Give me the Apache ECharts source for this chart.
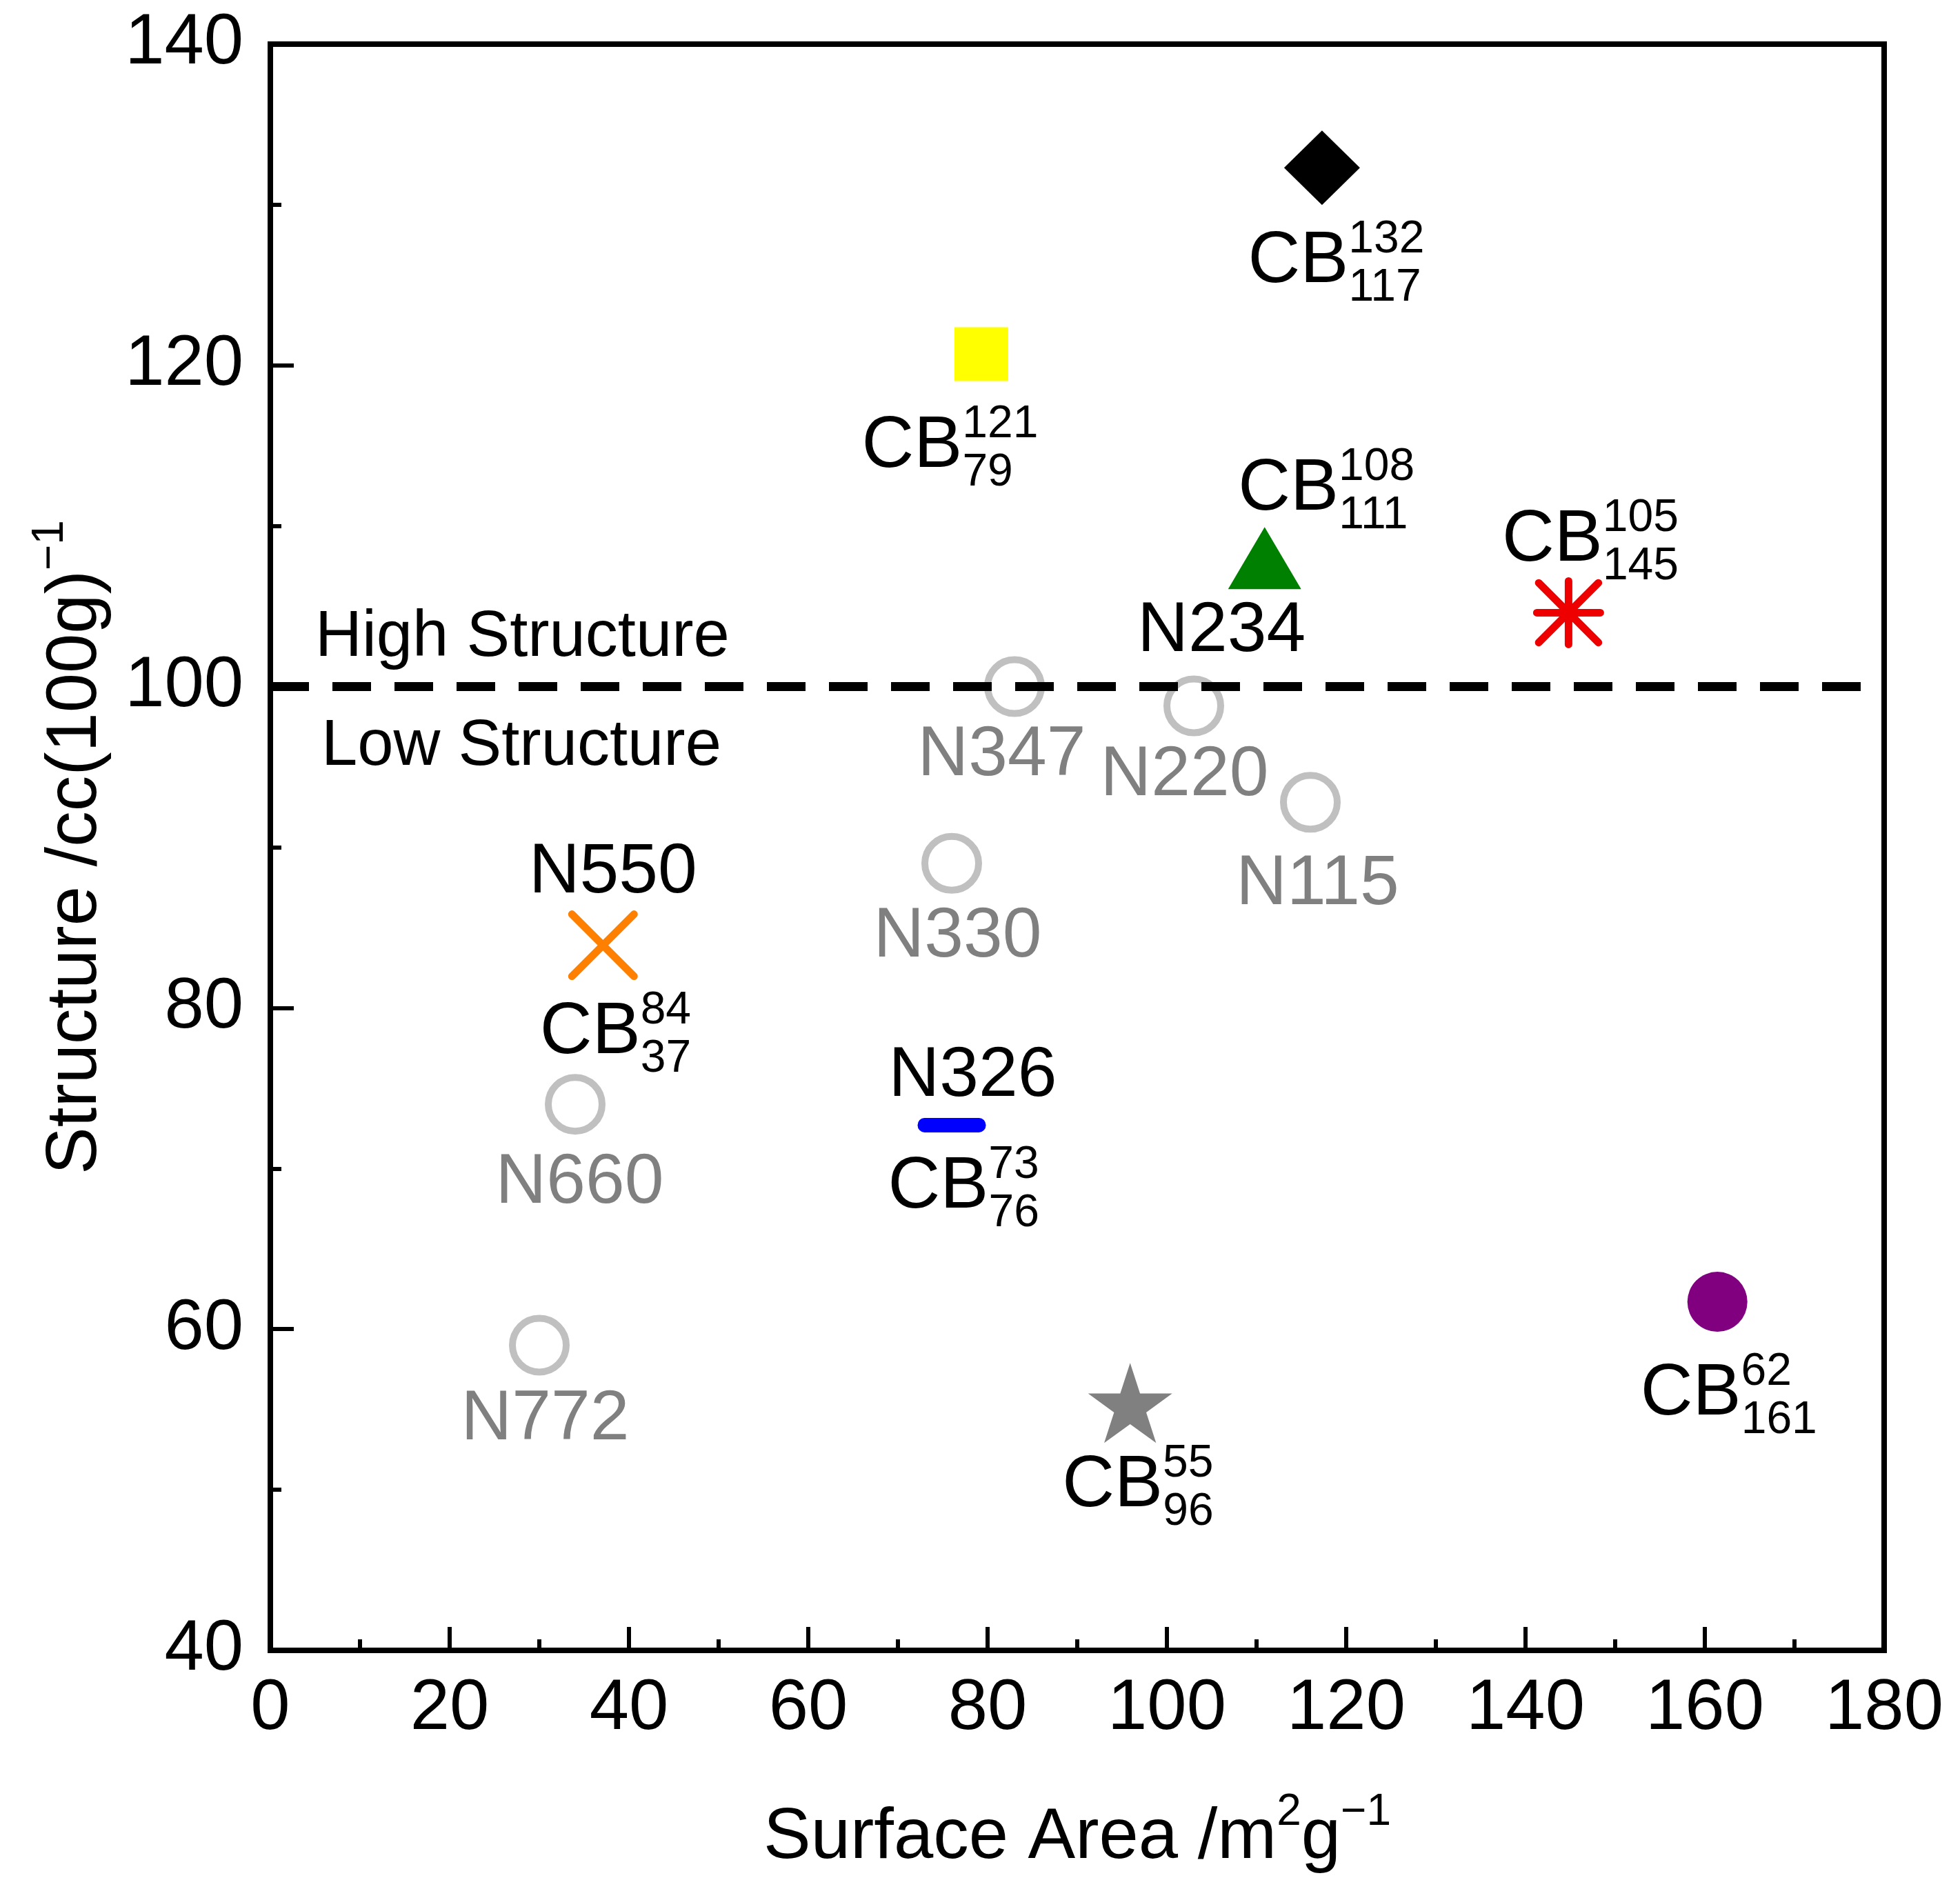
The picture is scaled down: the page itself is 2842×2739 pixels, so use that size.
<!DOCTYPE html>
<html>
<head>
<meta charset="utf-8">
<script src="https://cdn.jsdelivr.net/npm/echarts@6/dist/echarts.min.js"></script>
<style>
html, body { margin: 0; padding: 0; background: #fff; }
#chart { width: 2842px; height: 2739px; }
</style>
</head>
<body>
<div id="chart"></div>
<script>
// carbon blacks: surface area (m2/g) vs structure (cc/100g)
const cbArea = [117.3, 79.3, 110.9, 144.8, 161.4, 95.9, 76, 37.1]
const cbStructure = [132.3, 120.7, 108, 104.6, 61.7, 55.4, 72.7, 83.9]
const cbSup = ['132', '121', '108', '105', '62', '55', '73', '84']
const cbSub = ['117', '79', '111', '145', '161', '96', '76', '37']

// ASTM reference grades (open grey circles)
const astmNames = ['N347', 'N220', 'N115', 'N330', 'N660', 'N772']
const astmArea = [83, 103, 116, 76, 34, 30]
const astmStructure = [100, 98.8, 92.8, 89, 74, 59]

// grade names written next to some CB markers (index into cb arrays)
const extraNames = ['N234', 'N550', 'N326']
const extraIdx = [2, 7, 6]

const structureSplit = 100
const xRange = [0, 180], xStep = 20
const yRange = [40, 140], yStep = 20

// ---- styles / layout ----
const FONT = 'Liberation Sans, Arial, sans-serif'
const ASTERISK = 'path://M0,50L100,50M50,0L50,100M3,3L97,97M97,3L3,97'
const CROSS = 'path://M0,0L100,100M100,0L0,100'
const STAR = 'path://M50,0L61.2,34.5L97.6,34.5L68.2,55.9L79.4,90.5L50,69.1L20.6,90.5L31.8,55.9L2.4,34.5L38.8,34.5Z'
const DASH = 'path://M10,0L90,0A10,10,0,0,1,90,20L10,20A10,10,0,0,1,10,0Z'

const cbStyle = [
    { symbol: 'diamond', size: [110, 108], fill: '#000000' },
    { symbol: 'rect', size: 78, fill: '#ffff00' },
    { symbol: 'triangle', size: [106, 90], fill: '#008000' },
    { symbol: ASTERISK, size: 92, stroke: '#ee0000' },
    { symbol: 'circle', size: 87, fill: '#800080' },
    { symbol: STAR, size: [122, 116], fill: '#808080' },
    { symbol: DASH, size: [99, 21], fill: '#0000ff' },
    { symbol: CROSS, size: 90, stroke: '#ff8000' },
]
// label anchor offsets (px) from the marker
const cbLabelPos = [[-107, 137], [-173, 135], [-38, -99], [-96, -104], [-111, 135], [-98, 121], [-92, 91], [-91, 128]]
const astmLabelPos = [[-18, 101], [-13, 102], [11, 120], [9, 108], [7, 115], [9, 109]]
const extraLabelPos = [[-62, 107], [15, -104], [31, -70]]

const chart = echarts.init(document.getElementById('chart'), null, { renderer: 'canvas' })

const cbSeries = cbArea.map((x, i) => {
    const st = cbStyle[i]
    return {
        type: 'scatter',
        z: 3,
        silent: true,
        symbol: st.symbol,
        symbolSize: st.size,
        data: [[x, cbStructure[i]]],
        itemStyle: st.stroke
            ? { color: 'rgba(0,0,0,0)', borderColor: st.stroke, borderWidth: 11, borderCap: 'round', opacity: 1 }
            : { color: st.fill, opacity: 1 },
    }
})

const astmSeries = {
    type: 'scatter',
    z: 3,
    silent: true,
    symbol: 'circle',
    symbolSize: 78,
    data: astmArea.map((x, i) => [x, astmStructure[i]]),
    itemStyle: { color: '#ffffff', borderColor: '#c0c0c0', borderWidth: 10, opacity: 1 },
}

// text labels, anchored on the data points
const labelData = []
cbArea.forEach((x, i) => {
    const p = cbLabelPos[i]
    labelData.push({
        value: [x, cbStructure[i]],
        label: { formatter: '{cb|CB}{sup|' + cbSup[i] + '}', position: [p[0], p[1]], align: 'left', verticalAlign: 'middle' },
    })
    labelData.push({
        value: [x, cbStructure[i]],
        label: { formatter: '{sub|' + cbSub[i] + '}', position: [p[0] + 146, p[1] + 38], align: 'left', verticalAlign: 'middle' },
    })
})
astmNames.forEach((n, i) => {
    const p = astmLabelPos[i]
    labelData.push({
        value: [astmArea[i], astmStructure[i]],
        label: { formatter: '{gr|' + n + '}', position: [p[0], p[1]], align: 'center', verticalAlign: 'middle' },
    })
})
extraNames.forEach((n, k) => {
    const i = extraIdx[k], p = extraLabelPos[k]
    labelData.push({
        value: [cbArea[i], cbStructure[i]],
        label: { formatter: '{bk|' + n + '}', position: [p[0], p[1]], align: 'center', verticalAlign: 'middle' },
    })
})

const labelSeries = {
    type: 'scatter',
    z: 2,
    silent: true,
    symbolSize: 1,
    itemStyle: { color: 'rgba(0,0,0,0)', opacity: 1 },
    data: labelData,
    label: {
        show: true,
        color: '#000',
        opacity: 1,
        fontFamily: FONT,
        rich: {
            cb: { fontFamily: FONT, fontSize: 105, lineHeight: 130, color: '#000' },
            sup: { fontFamily: FONT, fontSize: 66, lineHeight: 66, verticalAlign: 'top', color: '#000' },
            sub: { fontFamily: FONT, fontSize: 66, lineHeight: 66, color: '#000' },
            gr: { fontFamily: FONT, fontSize: 102, lineHeight: 102, color: '#808080' },
            bk: { fontFamily: FONT, fontSize: 102, lineHeight: 102, color: '#000' },
        },
    },
    markLine: {
        silent: true,
        symbol: 'none',
        animation: false,
        lineStyle: { color: '#000', width: 13, type: [56, 34], opacity: 1 },
        label: { show: true, fontFamily: FONT, fontSize: 94, color: '#000' },
        data: [
            { yAxis: structureSplit, label: { position: 'insideStartTop', formatter: 'High Structure', distance: [65, 24] } },
            { yAxis: structureSplit, label: { position: 'insideStartBottom', formatter: 'Low Structure', distance: [74, 40] } },
        ],
    },
}

const axisCommon = {
    type: 'value',
    splitLine: { show: false },
    axisLine: { show: true, onZero: false, lineStyle: { color: '#000', width: 8 } },
    axisTick: { show: true, inside: true, length: 34, lineStyle: { color: '#000', width: 6 } },
    minorTick: { show: true, splitNumber: 2, length: 16, lineStyle: { color: '#000', width: 6 } },
    nameLocation: 'middle',
}

chart.setOption({
    animation: false,
    backgroundColor: '#fff',
    textStyle: { fontFamily: FONT },
    grid: { left: 392, right: 110, top: 64, bottom: 346, show: true, borderColor: '#000', borderWidth: 8, backgroundColor: 'rgba(0,0,0,0)' },
    xAxis: Object.assign({}, axisCommon, {
        min: xRange[0], max: xRange[1], interval: xStep,
        axisLabel: { fontFamily: FONT, fontSize: 103, color: '#000', margin: 34 },
        name: '{t|Surface Area /m}{s|2}{t|g}{s|\u22121}',
        nameGap: 203,
        nameTextStyle: {
            rich: {
                t: { fontFamily: FONT, fontSize: 103, lineHeight: 140, color: '#000' },
                s: { fontFamily: FONT, fontSize: 64, lineHeight: 64, verticalAlign: 'top', color: '#000' },
            },
        },
    }),
    yAxis: Object.assign({}, axisCommon, {
        min: yRange[0], max: yRange[1], interval: yStep,
        axisLabel: { fontFamily: FONT, fontSize: 103, color: '#000', margin: 39, padding: [0, 0, 12, 0] },
        name: '{t|Structure /cc(100g)}{s|\u22121}',
        nameGap: 211,
        nameTextStyle: {
            rich: {
                t: { fontFamily: FONT, fontSize: 103, lineHeight: 140, color: '#000' },
                s: { fontFamily: FONT, fontSize: 64, lineHeight: 64, verticalAlign: 'top', color: '#000' },
            },
        },
    }),
    series: [labelSeries, astmSeries].concat(cbSeries),
})
</script>
</body>
</html>
